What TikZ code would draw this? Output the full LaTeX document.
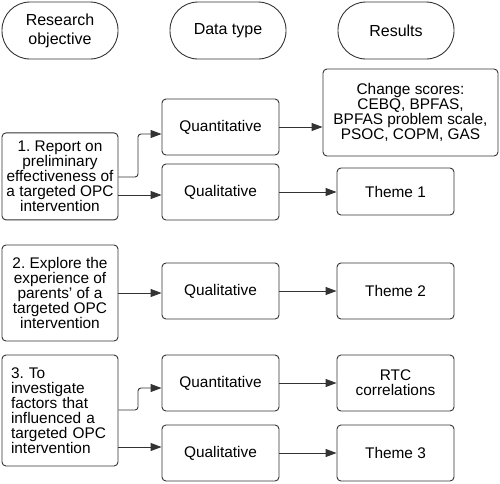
\documentclass[tikz,border=0pt]{standalone}
\usepackage{fontspec}
\setmainfont{Liberation Sans}
\usetikzlibrary{arrows.meta}
\definecolor{ln}{HTML}{333333}
\tikzset{
  box/.style={draw=ln, line width=0.9pt, rounded corners=4pt, align=center, inner sep=2pt, text=black, font=\fontsize{15.4}{15}\selectfont\frenchspacing},
  pill/.style={box, rounded corners=28pt, minimum width=116pt, minimum height=57pt, font=\fontsize{16}{19}\selectfont},
  arr/.style={draw=ln, line width=0.9pt, -{Triangle[length=11pt,width=8pt]}},
}
\begin{document}
\begin{tikzpicture}[x=1pt,y=-1pt]
\useasboundingbox (0,0) rectangle (500,483);
% headers
\node[pill] (h1) at (60,30.5) {Research\\objective};
\node[pill] (h2) at (228,30.5) {Data type};
\node[pill] (h3) at (396,30.5) {Results};
% row 1
\node[box, minimum width=116pt, minimum height=87pt] (o1) at (60,176.4) {1. Report on\\preliminary\\effectiveness of\\a targeted OPC\\intervention};
\node[box, minimum width=117pt, minimum height=56pt] (q1) at (220.5,127) {Quantitative};
\node[box, minimum width=175pt, minimum height=87pt] (c1) at (410.5,112.5) {Change scores:\\CEBQ, BPFAS,\\BPFAS problem scale,\\PSOC, COPM, GAS};
\node[box, minimum width=117pt, minimum height=56pt] (l1) at (220.5,192) {Qualitative};
\node[box, minimum width=117pt, minimum height=47pt] (t1) at (395.5,191.5) {Theme 1};
% row 2
\node[box, minimum width=116pt, minimum height=96pt] (o2) at (60,293) {2. Explore the\\experience of\\parents' of a\\targeted OPC\\intervention};
\node[box, minimum width=117pt, minimum height=56pt] (l2) at (220.5,291) {Qualitative};
\node[box, minimum width=117pt, minimum height=56pt] (t2) at (395.5,291) {Theme 2};
% row 3
\node[box, minimum width=116pt, minimum height=111pt, text width=98pt, align=left, inner xsep=9pt] (o3) at (60,410.5) {3. To\\investigate\\factors that\\influenced a\\targeted OPC\\intervention};
\node[box, minimum width=117pt, minimum height=56pt] (q3) at (220.5,383) {Quantitative};
\node[box, minimum width=117pt, minimum height=56pt] (r3) at (395.5,383) {RTC\\correlations};
\node[box, minimum width=117pt, minimum height=56pt] (l3) at (220.5,453) {Qualitative};
\node[box, minimum width=117pt, minimum height=56pt] (t3) at (395.5,453) {Theme 3};
% connector helper coordinates
\coordinate (a1) at (0,177);
\coordinate (k1) at (138,177);
\coordinate (e1) at (0,134);
\coordinate (a2) at (0,195);
\coordinate (a3) at (0,293);
\coordinate (b1) at (0,410);
\coordinate (k3) at (138,410);
\coordinate (e3) at (0,388);
\coordinate (b2) at (0,447);
% connectors
\draw[arr, rounded corners=3pt] (o1.east |- a1) -- (k1) |- (q1.west |- e1);
\draw[arr] (o1.east |- a2) -- (l1.west |- a2);
\draw[arr] (q1.east) -- (q1.east -| c1.west);
\draw[arr] (l1.east) -- (l1.east -| t1.west);
\draw[arr] (o2.east |- a3) -- (l2.west |- a3);
\draw[arr] (l2.east) -- (t2.west);
\draw[arr, rounded corners=3pt] (o3.east |- b1) -- (k3) |- (q3.west |- e3);
\draw[arr] (o3.east |- b2) -- (l3.west |- b2);
\draw[arr] (q3.east) -- (r3.west);
\draw[arr] (l3.east) -- (t3.west);
\end{tikzpicture}
\end{document}
